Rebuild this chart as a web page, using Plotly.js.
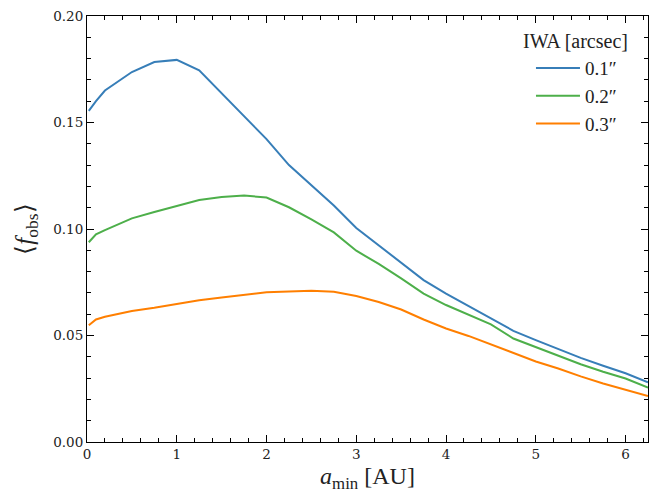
<!DOCTYPE html>
<html>
<head>
<meta charset="utf-8">
<script src="https://cdn.plot.ly/plotly-3.0.1.min.js"></script>
<style>html,body{margin:0;padding:0;background:#fff;}#chart{width:667px;height:493px;}</style>
</head>
<body>
<div id="chart"></div>
<script>
const aMin = [0.02, 0.1, 0.2, 0.5, 0.75, 1.0, 1.25, 1.5, 1.75, 2.0, 2.25, 2.5, 2.75, 3.0, 3.25, 3.5, 3.75, 4.0, 4.25, 4.5, 4.75, 5.0, 5.25, 5.5, 5.75, 6.0, 6.25];
const fObs01 = [0.1555, 0.1600, 0.1650, 0.1737, 0.1784, 0.1794, 0.1745, 0.1637, 0.1530, 0.1422, 0.1300, 0.1205, 0.1110, 0.1005, 0.0922, 0.0842, 0.0760, 0.0697, 0.0640, 0.0582, 0.0522, 0.0478, 0.0435, 0.0395, 0.0358, 0.0323, 0.0280];
const fObs02 = [0.0938, 0.0975, 0.0995, 0.1050, 0.1080, 0.1109, 0.1136, 0.1150, 0.1157, 0.1148, 0.1102, 0.1045, 0.0984, 0.0898, 0.0836, 0.0768, 0.0697, 0.0643, 0.0598, 0.0552, 0.0486, 0.0445, 0.0405, 0.0365, 0.0330, 0.0298, 0.0255];
const fObs03 = [0.0548, 0.0575, 0.0588, 0.0615, 0.0630, 0.0648, 0.0665, 0.0678, 0.0690, 0.0703, 0.0707, 0.0710, 0.0705, 0.0685, 0.0657, 0.0622, 0.0575, 0.0533, 0.0498, 0.0458, 0.0415, 0.0378, 0.0345, 0.0308, 0.0275, 0.0245, 0.0216];
const seriesNames = ['0.1″', '0.2″', '0.3″'];
const seriesColors = ['#377eb8', '#4daf4a', '#ff7f00'];
const legendTitle = 'IWA [arcsec]';
const xTicks = [0, 1, 2, 3, 4, 5, 6];
const yTicks = [0.00, 0.05, 0.10, 0.15, 0.20];
const yTickText = ['0.00', '0.05', '0.10', '0.15', '0.20'];

const allY = [fObs01, fObs02, fObs03];
const traces = allY.map((ys, i) => ({
  x: aMin, y: ys, type: 'scatter', mode: 'lines', name: seriesNames[i],
  line: {color: seriesColors[i], width: 2}
}));

const axisCommon = {
  showline: true, linecolor: '#000', linewidth: 1, mirror: 'allticks',
  ticks: 'inside', ticklen: 7, tickwidth: 1, tickcolor: '#000',
  showgrid: false, zeroline: false,
  tickfont: {family: 'DejaVu Serif', size: 13.5, color: '#222'}
};

const layout = {
  width: 667, height: 493,
  margin: {l: 87, r: 19, t: 16, b: 51},
  paper_bgcolor: '#fff', plot_bgcolor: '#fff',
  showlegend: true,
  legend: {
    x: 0.7914, y: 0.922, xanchor: 'left', yanchor: 'top',
    bgcolor: 'rgba(0,0,0,0)', borderwidth: 0,
    font: {family: 'Liberation Serif', size: 19, color: '#222'},
    itemwidth: 44, tracegroupgap: 0
  },
  annotations: [{
    text: legendTitle, xref: 'paper', yref: 'paper', x: 0.968, y: 0.941,
    xanchor: 'right', yanchor: 'middle', showarrow: false,
    font: {family: 'Liberation Serif', size: 20, color: '#222'}
  }],
  xaxis: Object.assign({}, axisCommon, {
    range: [0, 6.25], tickvals: xTicks, ticktext: xTicks.map(String),
    minor: {dtick: 0.2, tick0: 0, ticks: 'inside', ticklen: 4, tickcolor: '#000', showgrid: false},
    title: {text: '<i>a</i><sub>min</sub> [AU]', font: {family: 'Liberation Serif', size: 24, color: '#222'}, standoff: 6}
  }),
  yaxis: Object.assign({}, axisCommon, {
    range: [0, 0.20], tickvals: yTicks, ticktext: yTickText,
    minor: {dtick: 0.01, tick0: 0, ticks: 'inside', ticklen: 4, tickcolor: '#000', showgrid: false},
    title: {text: '⟨<i>f</i><sub>obs</sub>⟩', font: {family: 'Liberation Serif', size: 25, color: '#222'}, standoff: 12}
  })
};

Plotly.newPlot('chart', traces, layout, {displayModeBar: false, staticPlot: true});
</script>
</body>
</html>
